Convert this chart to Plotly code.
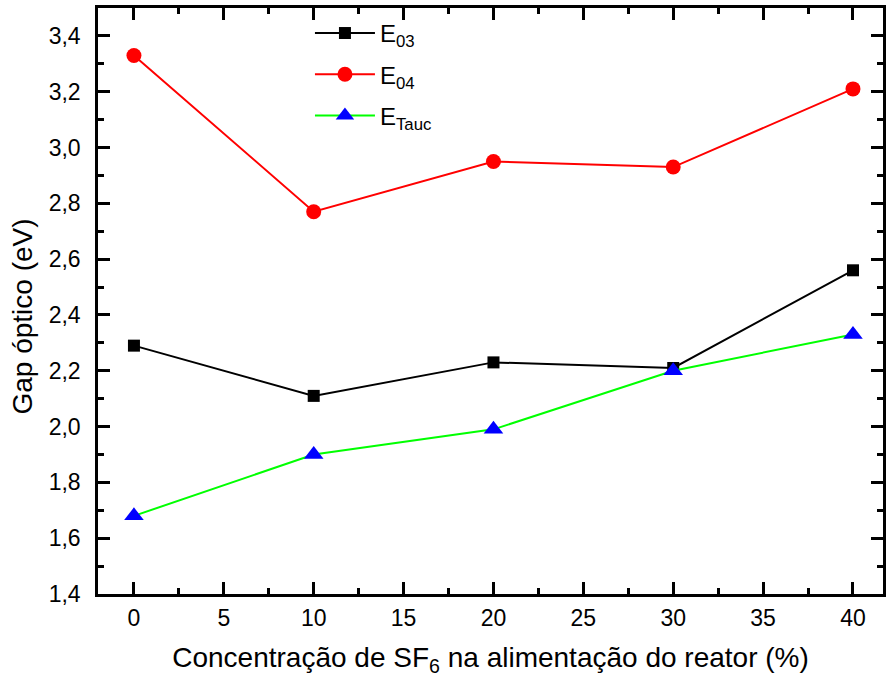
import plotly.graph_objects as go

# SF6 concentration in the reactor feed (%)
sf6 = [0, 10, 20, 30, 40]
# Optical gap values (eV)
e03 = [2.29, 2.11, 2.23, 2.21, 2.56]
e04 = [3.33, 2.77, 2.95, 2.93, 3.21]
etauc = [1.68, 1.90, 1.99, 2.20, 2.33]

font = "Liberation Sans, Arial, sans-serif"

fig = go.Figure()
fig.add_trace(go.Scatter(
    x=sf6, y=e03, name="E<sub>03</sub>", mode="lines+markers", legendgroup="a",
    line=dict(color="black", width=2),
    marker=dict(symbol="square", size=12, color="black"),
))
fig.add_trace(go.Scatter(
    x=sf6, y=e04, name="E<sub>04</sub>", mode="lines+markers", legendgroup="b",
    line=dict(color="#ff0000", width=2),
    marker=dict(symbol="circle", size=15, color="#ff0000"),
))
fig.add_trace(go.Scatter(
    x=sf6, y=etauc, name="E<sub>Tauc</sub>", mode="lines+markers", legendgroup="c",
    line=dict(color="#00ff00", width=2),
    marker=dict(symbol="triangle-up", size=17, color="#0000ff"),
))

axis_common = dict(
    showgrid=False, zeroline=False, showline=True, linecolor="black",
    linewidth=2.5, mirror="allticks", ticks="inside", tickcolor="black",
    tickwidth=2.5, ticklen=12,
    tickfont=dict(family=font, size=23, color="black"),
)

fig.update_xaxes(
    range=[-2, 41.67], tickvals=[0, 5, 10, 15, 20, 25, 30, 35, 40],
    ticklabelstandoff=2,
    minor=dict(ticks="inside", ticklen=6, tickwidth=2.5, tickcolor="black", dtick=2.5, showgrid=False),
    title=dict(text="Concentração de SF<sub>6</sub> na alimentação do reator (%)",
               font=dict(family=font, size=28, color="black"), standoff=18),
    **axis_common,
)
fig.update_yaxes(
    range=[1.4, 3.5], tickvals=[1.4, 1.6, 1.8, 2.0, 2.2, 2.4, 2.6, 2.8, 3.0, 3.2, 3.4],
    ticktext=["1,4", "1,6", "1,8", "2,0", "2,2", "2,4", "2,6", "2,8", "3,0", "3,2", "3,4"],
    ticklabelstandoff=10,
    minor=dict(ticks="inside", ticklen=6, tickwidth=2.5, tickcolor="black", dtick=0.1, showgrid=False),
    **axis_common,
)

# y-axis title, set slightly below the plot's vertical centre
fig.add_annotation(
    text="Gap óptico (eV)", xref="paper", yref="paper",
    x=-0.0964, y=0.474, xanchor="center", yanchor="middle",
    textangle=-90, showarrow=False,
    font=dict(family=font, size=28, color="black"),
)

fig.update_layout(
    width=886, height=686,
    margin=dict(l=98, r=0, t=8, b=92),
    paper_bgcolor="white", plot_bgcolor="white",
    showlegend=True,
    legend=dict(
        x=0.27, y=0.995, xanchor="left", yanchor="top",
        bgcolor="rgba(0,0,0,0)", itemwidth=60,
        font=dict(family=font, size=24, color="black"),
        tracegroupgap=7,
    ),
)

fig.write_html("out.html")
